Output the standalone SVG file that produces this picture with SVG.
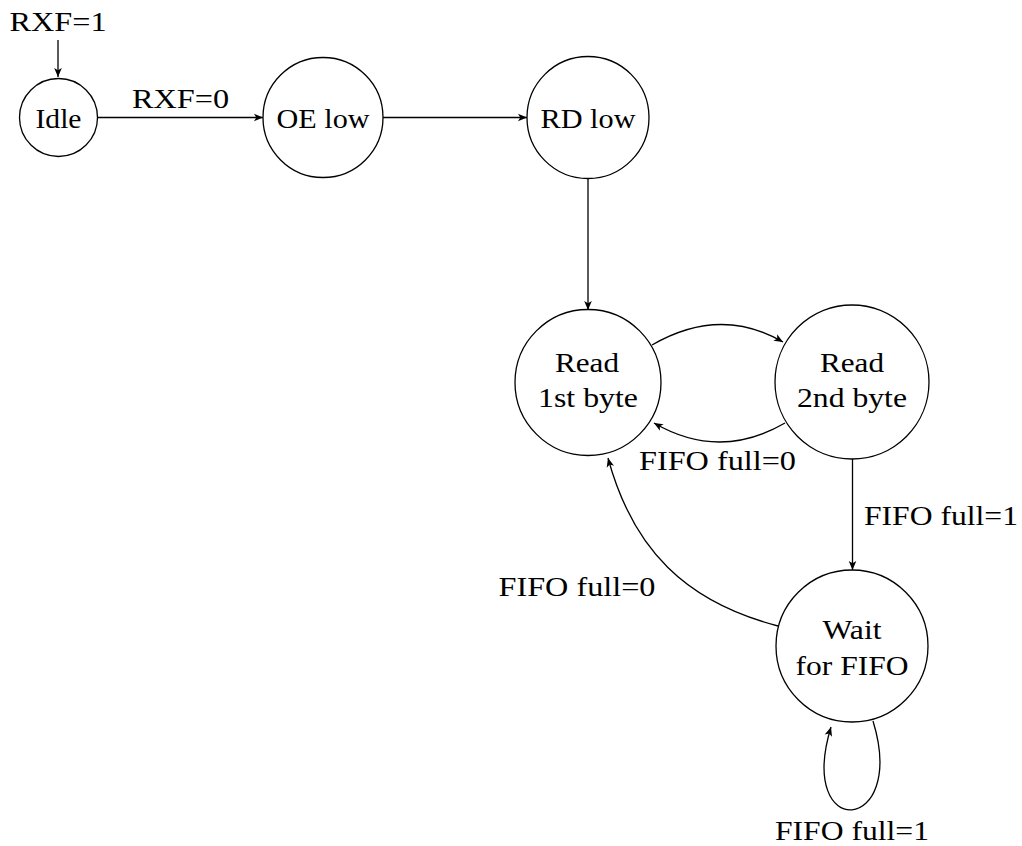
<svg xmlns="http://www.w3.org/2000/svg" width="1022" height="846" viewBox="0 0 1022 846" font-family="'Liberation Serif', 'DejaVu Serif', serif">
<style>
.node{fill:#fff;stroke:#000;stroke-width:1.3}
.edge{fill:none;stroke:#000;stroke-width:1.3;marker-end:url(#arr)}
text{font-family:'Liberation Serif','DejaVu Serif',serif;font-size:28px;fill:#000;text-anchor:middle}
</style>
<defs>
<marker id="arr" markerUnits="userSpaceOnUse" markerWidth="12" markerHeight="10" refX="9" refY="4.5" orient="auto" overflow="visible">
<path d="M9,4.5 L0,0.7 L2.3,4.5 L0,8.3 Z" fill="#000"/>
</marker>
</defs>
<rect width="1022" height="846" fill="#fff"/>
<g id="connectors">
<line class="edge" x1="58" y1="40" x2="58" y2="77"/>
<line class="edge" x1="97" y1="117.5" x2="263" y2="117.5"/>
<line class="edge" x1="383" y1="117.5" x2="527" y2="117.5"/>
<line class="edge" x1="588" y1="178.5" x2="588" y2="310"/>
<path class="edge" d="M652,345 C696,319.5 739,316.5 783,342"/>
<path class="edge" d="M785,423 C741,448.5 698,448.5 654,423"/>
<line class="edge" x1="852.5" y1="459" x2="852.5" y2="570"/>
<path class="edge" d="M778,626 C686,602 633,550 608,458"/>
<path class="edge" d="M873,721 C908,835 796,842 831,727"/>
</g>
<g id="labels">
<text x="58" y="31" textLength="97" lengthAdjust="spacingAndGlyphs">RXF=1</text>
<text x="180.5" y="108" textLength="97" lengthAdjust="spacingAndGlyphs">RXF=0</text>
<text x="717.5" y="470" textLength="157" lengthAdjust="spacingAndGlyphs">FIFO full=0</text>
<text x="941" y="525" textLength="154" lengthAdjust="spacingAndGlyphs">FIFO full=1</text>
<text x="577" y="596" textLength="157" lengthAdjust="spacingAndGlyphs">FIFO full=0</text>
<text x="852" y="840" textLength="154" lengthAdjust="spacingAndGlyphs">FIFO full=1</text>
</g>
<g id="idle">
<circle class="node" cx="58.5" cy="117.5" r="39"/>
<text x="58.5" y="128" textLength="46" lengthAdjust="spacingAndGlyphs">Idle</text>
</g>
<g id="oe-low">
<circle class="node" cx="323" cy="117.5" r="60"/>
<text x="323" y="128" textLength="93" lengthAdjust="spacingAndGlyphs">OE low</text>
</g>
<g id="rd-low">
<circle class="node" cx="588" cy="117.5" r="61"/>
<text x="588" y="128" textLength="95" lengthAdjust="spacingAndGlyphs">RD low</text>
</g>
<g id="read-1st">
<circle class="node" cx="588" cy="382.5" r="73"/>
<text x="587" y="372" textLength="64" lengthAdjust="spacingAndGlyphs">Read</text>
<text x="588" y="407" textLength="100" lengthAdjust="spacingAndGlyphs">1st byte</text>
</g>
<g id="read-2nd">
<circle class="node" cx="852" cy="382" r="77"/>
<text x="852" y="372" textLength="64" lengthAdjust="spacingAndGlyphs">Read</text>
<text x="852" y="407" textLength="110" lengthAdjust="spacingAndGlyphs">2nd byte</text>
</g>
<g id="wait-fifo">
<circle class="node" cx="852" cy="646" r="76"/>
<text x="852" y="639" textLength="59" lengthAdjust="spacingAndGlyphs">Wait</text>
<text x="852" y="675" textLength="113" lengthAdjust="spacingAndGlyphs">for FIFO</text>
</g>
</svg>
